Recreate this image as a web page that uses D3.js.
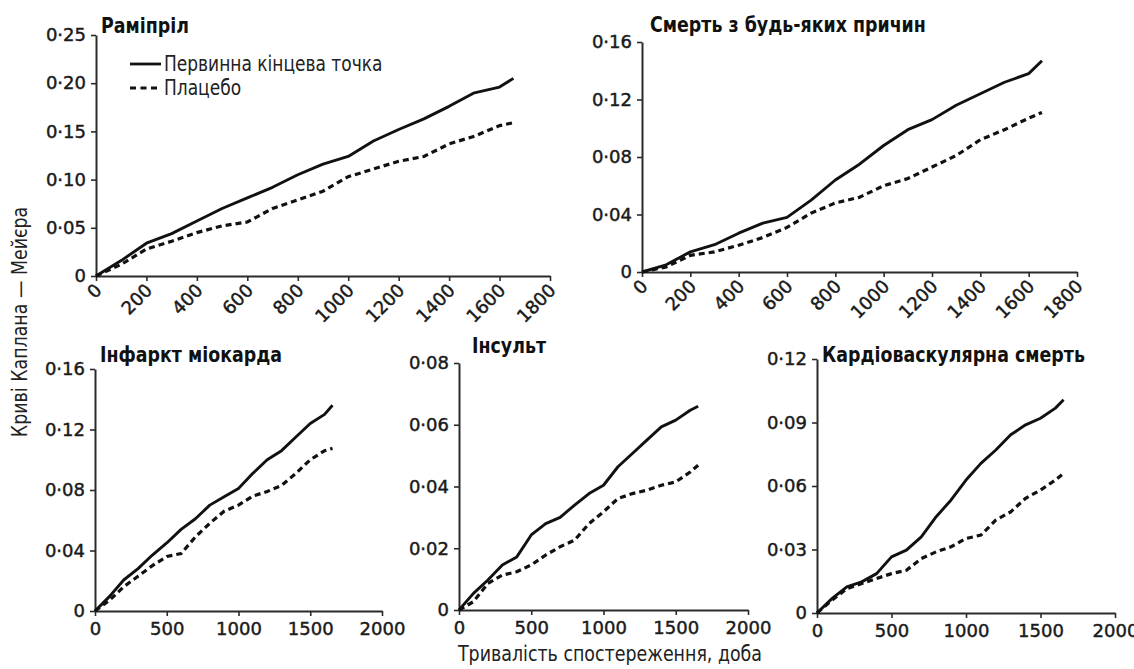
<!DOCTYPE html>
<html>
<head>
<meta charset="utf-8">
<script src="https://cdn.jsdelivr.net/npm/d3@7"></script>
<style>
  body { margin: 0; background: #fff; }
  .tick text { font-family: "DejaVu Sans", Verdana, sans-serif; font-size: 18px; fill: #1a1a1a; stroke: #1a1a1a; stroke-width: 0.45px; }
  .narrow { font-family: "Liberation Sans Narrow", "DejaVu Sans Condensed", sans-serif; }
</style>
</head>
<body>
<svg id="chart" width="1134" height="669"></svg>
<script>
// follow-up days, shared by all panels
const days = [0, 100, 200, 300, 400, 500, 600, 700, 800, 900, 1000, 1100, 1200, 1300, 1400, 1500, 1600, 1655];

// Раміпріл
const ramiprilSolid  = [0, 0.016, 0.034, 0.044, 0.057, 0.070, 0.081, 0.092, 0.105, 0.116, 0.124, 0.140, 0.152, 0.163, 0.176, 0.190, 0.196, 0.205];
const ramiprilDashed = [0, 0.012, 0.028, 0.036, 0.045, 0.052, 0.056, 0.070, 0.079, 0.088, 0.103, 0.111, 0.119, 0.124, 0.137, 0.145, 0.156, 0.159];
// Смерть з будь-яких причин
const deathSolid  = [0, 0.005, 0.014, 0.019, 0.027, 0.034, 0.038, 0.050, 0.064, 0.075, 0.088, 0.099, 0.106, 0.116, 0.124, 0.132, 0.138, 0.147];
const deathDashed = [0, 0.0035, 0.0116, 0.014, 0.0186, 0.024, 0.031, 0.041, 0.048, 0.052, 0.060, 0.065, 0.073, 0.081, 0.092, 0.099, 0.107, 0.111];
// Інфаркт міокарда
const miSolid  = [0, 0.0095, 0.0205, 0.028, 0.037, 0.045, 0.054, 0.061, 0.070, 0.0756, 0.081, 0.091, 0.100, 0.106, 0.115, 0.124, 0.130, 0.136];
const miDashed = [0, 0.007, 0.016, 0.023, 0.030, 0.036, 0.038, 0.049, 0.058, 0.066, 0.070, 0.076, 0.079, 0.083, 0.091, 0.100, 0.106, 0.1075];
// Інсульт
const strokeSolid  = [0, 0.0054, 0.0097, 0.0146, 0.0172, 0.0243, 0.028, 0.030, 0.034, 0.0377, 0.0404, 0.0464, 0.0507, 0.055, 0.0593, 0.0615, 0.0647, 0.066];
const strokeDashed = [0, 0.0027, 0.0086, 0.0113, 0.0124, 0.0146, 0.0178, 0.0205, 0.0226, 0.028, 0.0318, 0.0361, 0.0377, 0.0388, 0.0404, 0.0415, 0.0447, 0.0469];
// Кардіоваскулярна смерть
const cvSolid  = [0, 0.0068, 0.0123, 0.0147, 0.0186, 0.0265, 0.0297, 0.036, 0.0455, 0.0534, 0.0628, 0.0707, 0.077, 0.0842, 0.0889, 0.092, 0.0968, 0.1007];
const cvDashed = [0, 0.006, 0.0115, 0.0139, 0.0163, 0.0186, 0.0202, 0.0257, 0.0289, 0.0313, 0.0352, 0.0368, 0.0439, 0.0478, 0.0542, 0.0581, 0.0628, 0.066];

const titles = ['Раміпріл', 'Смерть з будь-яких причин', 'Інфаркт міокарда', 'Інсульт', 'Кардіоваскулярна смерть'];
const legendLabels = ['Первинна кінцева точка', 'Плацебо'];
const xTicksTop = [0, 200, 400, 600, 800, 1000, 1200, 1400, 1600, 1800];
const xTicksBottom = [0, 500, 1000, 1500, 2000];
const yTicks = [
  [0, 0.05, 0.10, 0.15, 0.20, 0.25],
  [0, 0.04, 0.08, 0.12, 0.16],
  [0, 0.04, 0.08, 0.12, 0.16],
  [0, 0.02, 0.04, 0.06, 0.08],
  [0, 0.03, 0.06, 0.09, 0.12]
];
const xTitle = 'Тривалість спостереження, доба';
const yTitle = 'Криві Каплана — Мейєра';

const series = [
  [ramiprilSolid, ramiprilDashed],
  [deathSolid, deathDashed],
  [miSolid, miDashed],
  [strokeSolid, strokeDashed],
  [cvSolid, cvDashed]
];

// panel placement
const layout = [
  { xr: [96, 550],  yr: [276, 35],  top: true,  tx: 101, ty: 33 },
  { xr: [642, 1077], yr: [272, 42], top: true,  tx: 650, ty: 32 },
  { xr: [95, 382],  yr: [611, 369], top: false, tx: 100, ty: 362 },
  { xr: [459, 748], yr: [610, 363], top: false, tx: 472, ty: 353 },
  { xr: [817, 1115], yr: [613, 359], top: false, tx: 822, ty: 362 }
];

const SQUEEZE = 0.88; // condensed look for the title/label face

const svg = d3.select('#chart');
const fmt = (v) => (v === 0 ? '0' : d3.format('.2f')(v).replace('.', '·'));

function styleAxis(a) {
  a.select('.domain').attr('stroke', '#2a2a2a').attr('stroke-width', 2);
  a.selectAll('.tick line').attr('stroke', '#2a2a2a').attr('stroke-width', 1.6);
}

function narrowText(parent, x, y, str, size, extra = '') {
  return parent.append('text').attr('class', 'narrow')
    .attr('transform', `translate(${x},${y}) ${extra} scale(${SQUEEZE},1)`)
    .attr('font-size', size)
    .text(str);
}

layout.forEach((p, i) => {
  const xTicks = p.top ? xTicksTop : xTicksBottom;
  const x = d3.scaleLinear().domain([0, xTicks[xTicks.length - 1]]).range(p.xr);
  const ticksY = yTicks[i];
  const y = d3.scaleLinear().domain([0, ticksY[ticksY.length - 1]]).range(p.yr);
  const g = svg.append('g');

  const ya = g.append('g')
    .attr('transform', `translate(${p.xr[0]},0)`)
    .call(d3.axisLeft(y).tickValues(ticksY).tickSize(5).tickSizeOuter(0).tickPadding(5).tickFormat(fmt));
  styleAxis(ya);

  const xa = g.append('g')
    .attr('transform', `translate(0,${p.yr[0]})`)
    .call(d3.axisBottom(x).tickValues(xTicks).tickSize(5).tickSizeOuter(0).tickPadding(6).tickFormat(d3.format('d')));
  styleAxis(xa);
  if (p.top) {
    xa.selectAll('.tick text')
      .attr('x', 0).attr('y', 0).attr('dy', '0.35em')
      .attr('text-anchor', 'end')
      .attr('transform', 'translate(2,11) rotate(-45)');
  }

  const line = d3.line().x((d, k) => x(days[k])).y((d) => y(d));
  g.append('path').datum(series[i][1])
    .attr('fill', 'none').attr('stroke', '#111').attr('stroke-width', 3.2)
    .attr('stroke-dasharray', '6,4')
    .attr('d', line);
  g.append('path').datum(series[i][0])
    .attr('fill', 'none').attr('stroke', '#111').attr('stroke-width', 2.9)
    .attr('stroke-linejoin', 'round')
    .attr('d', line);

  narrowText(g, p.tx, p.ty, titles[i], 22)
    .attr('font-weight', 'bold').attr('fill', '#111');
});

// legend
const legend = svg.append('g');
legendLabels.forEach((lab, k) => {
  const ly = 64 + k * 24;
  legend.append('line')
    .attr('x1', 130).attr('x2', 161).attr('y1', ly).attr('y2', ly)
    .attr('stroke', '#111').attr('stroke-width', k ? 3.2 : 2.8)
    .attr('stroke-dasharray', k ? '6,4.5' : null);
  narrowText(legend, 164, ly + 7, lab, 21.5).attr('fill', '#222');
});

narrowText(svg, 610, 661, xTitle, 22)
  .attr('text-anchor', 'middle').attr('fill', '#222');

narrowText(svg, 27, 322, yTitle, 22, 'rotate(-90)')
  .attr('text-anchor', 'middle').attr('fill', '#222');
</script>
</body>
</html>
